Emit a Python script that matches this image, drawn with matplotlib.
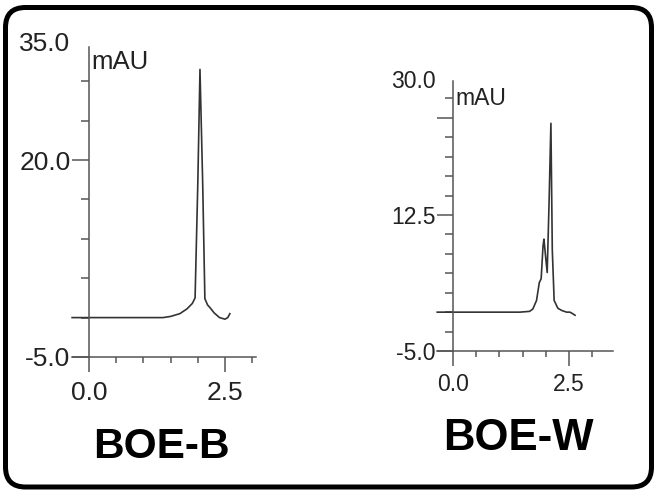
import matplotlib.pyplot as plt
from matplotlib.patches import FancyBboxPatch

plt.rcParams['font.family'] = ['Liberation Sans', 'DejaVu Sans']

# ---------------- DATA ----------------

# BOE-B trace: retention time (min) and signal (mAU)
boe_b_time = [-0.31, 1.36, 1.50, 1.67, 1.80, 1.90, 1.95, 2.00, 2.04, 2.09,
              2.13, 2.18, 2.22, 2.30, 2.40, 2.50, 2.55, 2.59]
boe_b_mau = [0.0, 0.0, 0.15, 0.5, 1.1, 1.8, 2.5, 17.0, 31.5, 17.0,
             2.4, 1.6, 1.3, 0.6, 0.0, -0.2, 0.0, 0.5]

# BOE-W trace
boe_w_time = [-0.34, 1.44, 1.65, 1.72, 1.80, 1.86, 1.90, 1.94, 1.96, 1.99,
              2.03, 2.07, 2.11, 2.14, 2.18, 2.26, 2.35, 2.45, 2.52, 2.58, 2.63]
boe_w_mau = [0.0, 0.0, 0.1, 0.4, 1.5, 3.8, 4.3, 8.5, 9.4, 7.5,
             5.1, 14.0, 24.3, 8.0, 1.5, 0.5, 0.2, 0.0, 0.0, -0.2, -0.4]

# axis ticks
b_yticks = [-5, 20, 35]
b_ytick_labels = ["-5.0", "20.0", "35.0"]
b_yminor = [0, 5, 10, 15, 25, 30]

w_yticks = [-5, 12.5, 25, 30]
w_ytick_labels = ["-5.0", "12.5", "", "30.0"]
w_yminor = [-2.5, 0, 2.5, 5, 7.5, 10, 15, 17.5, 20, 22.5, 27.5]

xticks = [0, 2.5]
xtick_labels = ["0.0", "2.5"]
xminor = [0.5, 1.0, 1.5, 2.0, 3.0]

# ---------------- FIGURE ----------------

W, H = 661, 496
fig = plt.figure(figsize=(W / 100, H / 100), dpi=100)

# rounded frame around everything
bg = fig.add_axes([0, 0, 1, 1], zorder=-1)
bg.set_xlim(0, W)
bg.set_ylim(H, 0)
bg.axis("off")
bg.add_patch(FancyBboxPatch((5.5, 7.5), 646, 479.5,
                            boxstyle="round,pad=0,rounding_size=20",
                            lw=3.6, ec="black", fc="white"))

axis_col = "#555555"
text_col = "#222222"


def panel(ox, sx, oy, sy, xlim, ylim, ytop, xspan):
    # ox/oy: pixel of (0, ylim[0]); sx/sy: pixels per unit
    left = ox + xlim[0] * sx
    right = ox + xlim[1] * sx
    top = oy - (ylim[1] - ylim[0]) * sy
    ax = fig.add_axes([left / W, 1 - oy / H, (right - left) / W, (oy - top) / H])
    ax.set_xlim(xlim)
    ax.set_ylim(ylim)
    ax.patch.set_alpha(0)
    ax.spines["top"].set_visible(False)
    ax.spines["right"].set_visible(False)
    ax.spines["left"].set_position(("data", 0))
    ax.spines["left"].set_bounds(ylim[0], ytop)
    ax.spines["bottom"].set_bounds(xspan[0], xspan[1])
    for s in ("left", "bottom"):
        ax.spines[s].set_color(axis_col)
        ax.spines[s].set_linewidth(1.1)
    return ax


def style_ticks(ax, yt, ylab, ymin, size, ylen, xpad):
    ax.set_yticks(yt, ylab)
    ax.set_yticks(ymin, minor=True)
    ax.set_xticks(xticks, xtick_labels)
    ax.set_xticks(xminor, minor=True)
    ax.tick_params(axis="y", which="major", length=ylen, width=1.1,
                   color=axis_col, labelcolor=text_col, labelsize=size, pad=1.2)
    ax.tick_params(axis="y", which="minor", length=5.8, width=1.1, color=axis_col)
    ax.tick_params(axis="x", which="major", length=10.8, width=1.1,
                   color=axis_col, labelcolor=text_col, labelsize=size, pad=xpad)
    ax.tick_params(axis="x", which="minor", length=4.6, width=1.1, color=axis_col)


# ---------------- BOE-B ----------------

ax1 = panel(89, 54.4, 357, 7.88, (-0.4, 3.2), (-5, 35), 34.3, (-0.31, 3.07))
ax1.plot(boe_b_time, boe_b_mau, color="#333333", lw=1.2)
style_ticks(ax1, b_yticks, b_ytick_labels, b_yminor, 19, 12.2, 6.5)
ax1.get_yaxis().get_major_ticks()[2].tick1line.set_visible(False)
ax1.annotate("mAU", xy=(0, 34.3), xytext=(1.5, -2), textcoords="offset points",
             ha="left", va="top", fontsize=18.5, color=text_col)

# ---------------- BOE-W ----------------

ax2 = panel(453, 46.4, 351, 7.77, (-0.4, 3.5), (-5, 30), 29.7, (-0.34, 3.45))
ax2.plot(boe_w_time, boe_w_mau, color="#333333", lw=1.2)
style_ticks(ax2, w_yticks, w_ytick_labels, w_yminor, 16.5, 11.5, 5)
ax2.get_yaxis().get_major_ticks()[3].tick1line.set_visible(False)
ax2.annotate("mAU", xy=(0, 29.7), xytext=(1.5, -4), textcoords="offset points",
             ha="left", va="top", fontsize=16.5, color=text_col)

# ---------------- TITLES ----------------

fig.text(161 / W, 1 - 458 / H, "BOE-B", ha="center", va="baseline",
         fontsize=30.5, fontweight="bold")
fig.text(518 / W, 1 - 450 / H, "BOE-W", ha="center", va="baseline",
         fontsize=31.5, fontweight="bold")

fig.savefig("out.png", dpi=100)
plt.close()
